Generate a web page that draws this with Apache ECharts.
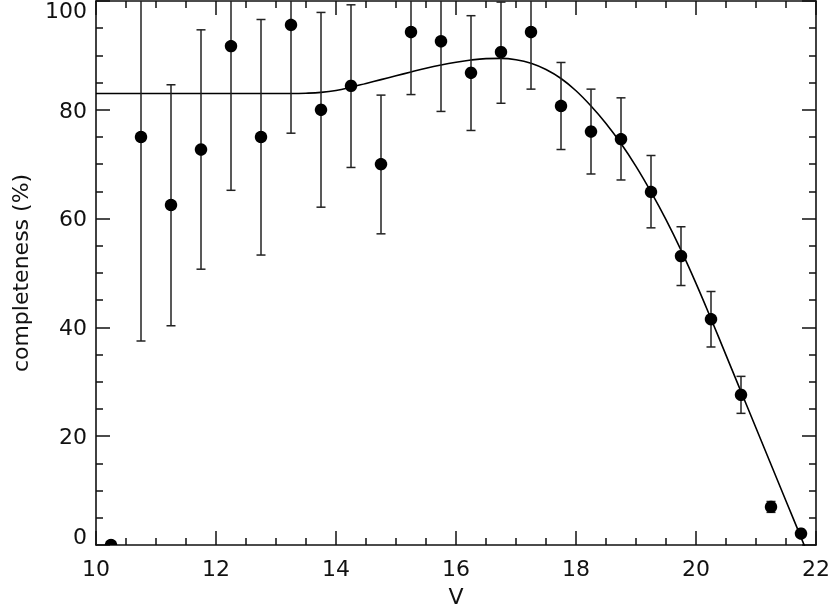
<!DOCTYPE html>
<html lang="en">
<head>
    <meta charset="UTF-8"/>
    <title>completeness vs V</title>
    <script src="https://cdn.jsdelivr.net/npm/echarts@6/dist/echarts.min.js"></script>
    <style>
        html, body { margin: 0; padding: 0; background: #fff; }
        #chart { width: 831px; height: 612px; }
    </style>
</head>
<body>
<div id="chart"></div>
<script type="text/javascript">
    // magnitude bins and measured completeness (%)
    var magBins = [10.25, 10.75, 11.25, 11.75, 12.25, 12.75, 13.25, 13.75, 14.25, 14.75, 15.25, 15.75,
        16.25, 16.75, 17.25, 17.75, 18.25, 18.75, 19.25, 19.75, 20.25, 20.75, 21.25, 21.75];
    var completeness = [0, 75.0, 62.5, 72.7, 91.7, 75.0, 95.6, 80.0, 84.4, 70.0, 94.3, 92.6,
        86.8, 90.6, 94.3, 80.7, 76.0, 74.6, 64.9, 53.1, 41.5, 27.6, 7.0, 2.1];
    var errLow = [0, 37.5, 40.3, 50.7, 65.2, 53.3, 75.7, 62.1, 69.4, 57.2, 82.8, 79.7,
        76.2, 81.2, 83.8, 72.7, 68.2, 67.1, 58.3, 47.7, 36.4, 24.2, 6.0, 2.1];
    var errHigh = [0, 112.5, 84.6, 94.7, 118.0, 96.6, 115.5, 97.9, 99.3, 82.7, 105.8, 105.5,
        97.3, 99.8, 104.8, 88.7, 83.8, 82.2, 71.6, 58.5, 46.6, 31.0, 8.0, 2.1];

    // fitted curve
    var fitV = [10, 10.5, 11, 11.5, 12, 12.5, 13, 13.25, 13.5, 13.75, 14.0, 14.25, 14.5, 14.75, 15.0,
        15.25, 15.5, 15.75, 16.0, 16.25, 16.5, 16.75, 17.0, 17.25, 17.5, 17.75, 18.0, 18.25, 18.5,
        18.75, 19.0, 19.25, 19.5, 19.75, 20.0, 20.25, 20.5, 20.75, 21.0, 21.25, 21.5, 21.75, 22.0];
    var fitCompleteness = [83.0, 83.0, 83.0, 83.0, 83.0, 83.0, 83.0, 83.0, 83.05, 83.2, 83.55, 84.15, 84.85, 85.55, 86.25,
        86.95, 87.65, 88.25, 88.75, 89.15, 89.4, 89.45, 89.2, 88.55, 87.4, 85.75, 83.5, 80.7, 77.5,
        73.8, 69.6, 64.9, 59.8, 54.2, 48.1, 41.6, 34.9, 28.2, 21.5, 14.8, 8.1, 1.4, -5.3];

    var xTicks = [10, 12, 14, 16, 18, 20, 22];
    var yTicks = [0, 20, 40, 60, 80, 100];

    var ink = '#111';
    var font = 'DejaVu Sans';

    var chart = echarts.init(document.getElementById('chart'));

    function axisCommon(showLabel) {
        return {
            axisLine: {show: true, onZero: false, lineStyle: {color: ink, width: 1.6}},
            axisTick: {show: true, inside: true, length: 14, lineStyle: {color: ink, width: 1.5}},
            minorTick: {show: true, splitNumber: 4, length: 7, lineStyle: {color: ink, width: 1.5}},
            splitLine: {show: false},
            axisLabel: {show: showLabel, color: ink, fontFamily: font, fontSize: 22}
        };
    }

    var xBottom = Object.assign(axisCommon(true), {
        type: 'value', position: 'bottom', min: xTicks[0], max: xTicks[xTicks.length - 1], interval: 2,
        name: 'V', nameLocation: 'middle', nameGap: 42,
        nameTextStyle: {color: ink, fontFamily: font, fontSize: 22}
    });
    xBottom.axisLabel.margin = 14;
    var xTop = Object.assign(axisCommon(false), {
        type: 'value', position: 'top', min: xTicks[0], max: xTicks[xTicks.length - 1], interval: 2
    });
    var yLeft = Object.assign(axisCommon(true), {
        type: 'value', position: 'left', min: yTicks[0], max: yTicks[yTicks.length - 1], interval: 20,
        name: 'completeness (%)', nameLocation: 'middle', nameGap: 63,
        nameTextStyle: {color: ink, fontFamily: font, fontSize: 22}
    });
    yLeft.axisLabel.margin = 9;
    // end labels sit inside the frame height, as in the original
    yLeft.axisLabel.formatter = function (val) {
        if (val === yTicks[yTicks.length - 1]) return '{hi|' + val + '}';
        if (val === yTicks[0]) return '{lo|' + val + '}';
        return '{mid|' + val + '}';
    };
    yLeft.axisLabel.rich = {
        hi: {fontFamily: font, fontSize: 22, color: ink, padding: [22, 0, 0, 0]},
        lo: {fontFamily: font, fontSize: 22, color: ink, padding: [0, 0, 14, 0]},
        mid: {fontFamily: font, fontSize: 22, color: ink, padding: [4, 0, 0, 0]}
    };
    var yRight = Object.assign(axisCommon(false), {
        type: 'value', position: 'right', min: yTicks[0], max: yTicks[yTicks.length - 1], interval: 20
    });

    var points = magBins.map(function (v, i) {
        return [v, completeness[i], errLow[i], errHigh[i]];
    });

    function renderPoint(params, api) {
        var cs = params.coordSys;
        var yMin = cs.y, yMax = cs.y + cs.height;
        function clampY(y) { return Math.max(yMin, Math.min(yMax, y)); }
        var v = api.value(0);
        var c = api.coord([v, api.value(1)]);
        var lo = api.value(2), hi = api.value(3);
        var children = [];
        if (hi > lo) {
            var ty = clampY(api.coord([v, hi])[1]);
            var by = clampY(api.coord([v, lo])[1]);
            var cap = 4.5;
            var st = {stroke: '#222', lineWidth: 1.5};
            children.push({type: 'line', shape: {x1: c[0], y1: ty, x2: c[0], y2: by}, style: st});
            if (ty > yMin) {
                children.push({type: 'line', shape: {x1: c[0] - cap, y1: ty, x2: c[0] + cap, y2: ty}, style: st});
            }
            if (by < yMax) {
                children.push({type: 'line', shape: {x1: c[0] - cap, y1: by, x2: c[0] + cap, y2: by}, style: st});
            }
        }
        // filled dot, cut off by the frame where it overlaps it
        var r = 6.2, pts = [];
        for (var k = 0; k < 40; k++) {
            var a = k / 40 * Math.PI * 2;
            pts.push([c[0] + r * Math.cos(a), clampY(c[1] + r * Math.sin(a))]);
        }
        children.push({type: 'polygon', shape: {points: pts}, style: {fill: '#000'}});
        return {type: 'group', children: children};
    }

    var option = {
        animation: false,
        backgroundColor: '#fff',
        grid: {left: 96, right: 15, top: 1, bottom: 67, containLabel: false, outerBoundsMode: 'none'},
        xAxis: [xBottom, xTop],
        yAxis: [yLeft, yRight],
        series: [
            {
                type: 'line',
                xAxisIndex: 0,
                yAxisIndex: 0,
                data: fitV.map(function (v, i) { return [v, fitCompleteness[i]]; }),
                showSymbol: false,
                smooth: 0.4,
                clip: true,
                lineStyle: {color: '#000', width: 1.6},
                z: 2
            },
            {
                type: 'custom',
                xAxisIndex: 0,
                yAxisIndex: 0,
                data: points,
                encode: {x: 0, y: 1},
                clip: true,
                renderItem: renderPoint,
                z: 3
            }
        ]
    };

    chart.setOption(option);
</script>
</body>
</html>
